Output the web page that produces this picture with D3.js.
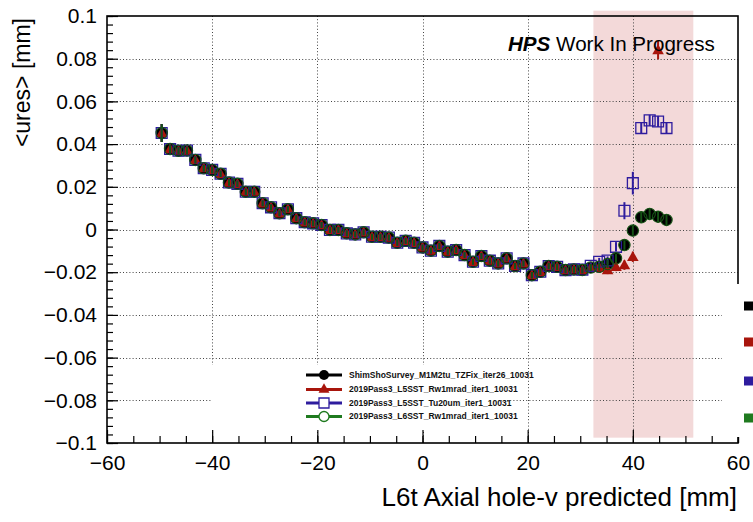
<!DOCTYPE html>
<html>
<head>
<meta charset="utf-8">
<script src="https://cdn.jsdelivr.net/npm/d3@7/dist/d3.min.js"></script>
<style>
  html, body { margin: 0; padding: 0; background: #fff; }
  svg { display: block; font-family: "Liberation Sans", Arial, Helvetica, sans-serif; }
</style>
</head>
<body>
<svg id="chart" width="753" height="522"></svg>
<script>
// Bin centres of the hole-v prediction [mm]
const xBins = [-49.6, -48.0, -46.4, -44.8, -43.2, -41.6, -40.0, -38.4, -36.8, -35.2,
  -33.6, -32.0, -30.4, -28.8, -27.2, -25.6, -24.0, -22.4, -20.8, -19.2,
  -17.6, -16.0, -14.4, -12.8, -11.2, -9.6, -8.0, -6.4, -4.8, -3.2,
  -1.6, 0.0, 1.6, 3.2, 4.8, 6.4, 8.0, 9.6, 11.2, 12.8,
  14.4, 16.0, 17.6, 19.2, 20.8, 22.4, 24.0, 25.6, 27.2, 28.8,
  30.4, 32.0, 33.6, 35.2, 36.8, 38.4, 40.0, 41.6, 43.2, 44.8, 46.4];

// Mean residual per bin [mm]
const shimSho = [0.0452, 0.0377, 0.0369, 0.0370, 0.0326, 0.0287, 0.0279, 0.0261, 0.0220, 0.0214,
  0.0177, 0.0177, 0.0123, 0.0104, 0.0076, 0.0095, 0.0053, 0.0034, 0.0029, 0.0021,
  -0.0002, -0.0002, -0.0018, -0.0023, -0.0013, -0.0034, -0.0034, -0.0038, -0.0062, -0.0053,
  -0.0062, -0.0084, -0.0099, -0.0077, -0.0104, -0.0096, -0.0120, -0.0151, -0.0124, -0.0146,
  -0.0159, -0.0135, -0.0171, -0.0159, -0.0214, -0.0198, -0.0171, -0.0175, -0.0190, -0.0187,
  -0.0190, -0.0178, -0.0175, -0.0162, -0.0135, -0.0073, -0.0005, 0.0057, 0.0073, 0.0060, 0.0045];

const l5Rw = [0.0452, 0.0377, 0.0369, 0.0370, 0.0326, 0.0287, 0.0279, 0.0261, 0.0220, 0.0214,
  0.0177, 0.0177, 0.0123, 0.0104, 0.0076, 0.0095, 0.0053, 0.0034, 0.0029, 0.0021,
  -0.0002, -0.0002, -0.0018, -0.0023, -0.0013, -0.0034, -0.0034, -0.0038, -0.0062, -0.0053,
  -0.0062, -0.0084, -0.0099, -0.0077, -0.0104, -0.0096, -0.0120, -0.0151, -0.0124, -0.0146,
  -0.0159, -0.0135, -0.0171, -0.0159, -0.0214, -0.0198, -0.0171, -0.0175, -0.0190, -0.0187,
  -0.0190, -0.0180, -0.0178, -0.0190, -0.0175, -0.0167, -0.0128, null, null, 0.0840, null];

const l5Tu = [0.0452, 0.0377, 0.0369, 0.0370, 0.0326, 0.0287, 0.0279, 0.0261, 0.0220, 0.0214,
  0.0177, 0.0177, 0.0123, 0.0104, 0.0076, 0.0095, 0.0053, 0.0034, 0.0029, 0.0021,
  -0.0002, -0.0002, -0.0018, -0.0023, -0.0013, -0.0034, -0.0034, -0.0038, -0.0062, -0.0053,
  -0.0062, -0.0084, -0.0099, -0.0077, -0.0104, -0.0096, -0.0120, -0.0151, -0.0124, -0.0146,
  -0.0159, -0.0135, -0.0171, -0.0159, -0.0214, -0.0198, -0.0171, -0.0175, -0.0190, -0.0187,
  -0.0188, -0.0170, -0.0151, -0.0145, -0.0081, 0.0088, 0.0217, 0.0475, 0.0511, 0.0506, 0.0475];

const l6Rw = [0.0452, 0.0377, 0.0369, 0.0370, 0.0326, 0.0287, 0.0279, 0.0261, 0.0220, 0.0214,
  0.0177, 0.0177, 0.0123, 0.0104, 0.0076, 0.0095, 0.0053, 0.0034, 0.0029, 0.0021,
  -0.0002, -0.0002, -0.0018, -0.0023, -0.0013, -0.0034, -0.0034, -0.0038, -0.0062, -0.0053,
  -0.0062, -0.0084, -0.0099, -0.0077, -0.0104, -0.0096, -0.0120, -0.0151, -0.0124, -0.0146,
  -0.0159, -0.0135, -0.0171, -0.0159, -0.0214, -0.0198, -0.0171, -0.0175, -0.0190, -0.0187,
  -0.0190, -0.0178, -0.0175, -0.0162, -0.0135, -0.0073, -0.0005, 0.0057, 0.0073, 0.0060, 0.0045];

// Statistical uncertainty on the mean per bin [mm]
const errCommon = [0.0042, 0.0020, 0.0018, 0.0018, 0.0017, 0.0016, 0.0016, 0.0015, 0.0015, 0.0015,
  0.0015, 0.0015, 0.0014, 0.0014, 0.0014, 0.0014, 0.0014, 0.0014, 0.0014, 0.0014,
  0.0014, 0.0014, 0.0014, 0.0014, 0.0014, 0.0014, 0.0014, 0.0014, 0.0014, 0.0014,
  0.0014, 0.0014, 0.0014, 0.0014, 0.0014, 0.0014, 0.0014, 0.0014, 0.0014, 0.0014,
  0.0014, 0.0014, 0.0014, 0.0014, 0.0015, 0.0015, 0.0015, 0.0015, 0.0015, 0.0016,
  0.0016, 0.0017, 0.0018, 0.0019, 0.0020, 0.0022, 0.0024, 0.0026, 0.0026, 0.0026, 0.0026];
const errTu = [0.0042, 0.0020, 0.0018, 0.0018, 0.0017, 0.0016, 0.0016, 0.0015, 0.0015, 0.0015,
  0.0015, 0.0015, 0.0014, 0.0014, 0.0014, 0.0014, 0.0014, 0.0014, 0.0014, 0.0014,
  0.0014, 0.0014, 0.0014, 0.0014, 0.0014, 0.0014, 0.0014, 0.0014, 0.0014, 0.0014,
  0.0014, 0.0014, 0.0014, 0.0014, 0.0014, 0.0014, 0.0014, 0.0014, 0.0014, 0.0014,
  0.0014, 0.0014, 0.0014, 0.0014, 0.0015, 0.0015, 0.0015, 0.0015, 0.0015, 0.0016,
  0.0016, 0.0017, 0.0018, 0.0019, 0.0022, 0.0040, 0.0053, 0.0026, 0.0026, 0.0026, 0.0026];
const errRwTop = 0.0043;

const seriesNames = [
  "ShimShoSurvey_M1M2tu_TZFix_iter26_10031",
  "2019Pass3_L5SST_Rw1mrad_iter1_10031",
  "2019Pass3_L5SST_Tu20um_iter1_10031",
  "2019Pass3_L6SST_Rw1mrad_iter1_10031"
];
const seriesColors = ["#000000", "#a8150c", "#2e1c9e", "#1f7a1f"];
const ringColor = "#145214";

const yTickValues = [-0.1, -0.08, -0.06, -0.04, -0.02, 0, 0.02, 0.04, 0.06, 0.08, 0.1];
const yTickLabels = ["\u22120.1", "\u22120.08", "\u22120.06", "\u22120.04", "\u22120.02", "0",
  "0.02", "0.04", "0.06", "0.08", "0.1"];
const xTickValues = [-60, -40, -20, 0, 20, 40, 60];
const xTickLabels = ["\u221260", "\u221240", "\u221220", "0", "20", "40", "60"];

// Highlighted acceptance window [mm] and its vertical span
const bandX = [32.5, 51.5];
const bandY = [-0.0975, 0.1025];

const svg = d3.select("#chart");
const frameL = 107, frameR = 738, frameT = 16, frameB = 443;
const x = d3.scaleLinear().domain([-60, 60]).range([frameL, frameR]);
const y = d3.scaleLinear().domain([-0.1, 0.1]).range([frameB, frameT]);

// shaded window
svg.append("rect")
  .attr("x", x(bandX[0])).attr("y", y(bandY[1]))
  .attr("width", x(bandX[1]) - x(bandX[0]))
  .attr("height", y(bandY[0]) - y(bandY[1]))
  .attr("fill", "#f3d9d9");

// dotted grid at the major ticks
const grid = svg.append("g").attr("stroke", "#444").attr("stroke-width", 1)
  .attr("stroke-dasharray", "1,2.2");
grid.selectAll("line.gy").data(yTickValues.slice(1, -1)).join("line")
  .attr("x1", frameL).attr("x2", frameR)
  .attr("y1", d => Math.round(y(d)) + 0.5).attr("y2", d => Math.round(y(d)) + 0.5);
grid.selectAll("line.gx").data(xTickValues.slice(1, -1)).join("line")
  .attr("y1", frameT).attr("y2", frameB)
  .attr("x1", d => Math.round(x(d)) + 0.5).attr("x2", d => Math.round(x(d)) + 0.5);

// data series: error bars then markers
const triangle = d3.symbol(d3.symbolTriangle, 58)();
const square = d3.symbol(d3.symbolSquare, 118)();

function drawSeries(vals, errs, color, kind) {
  const pts = xBins.map((xv, i) => ({ x: xv, y: vals[i], e: errs[i] }))
    .filter(p => p.y !== null);
  const g = svg.append("g");
  g.selectAll("line").data(pts).join("line")
    .attr("x1", d => x(d.x)).attr("x2", d => x(d.x))
    .attr("y1", d => y(d.y - d.e)).attr("y2", d => y(d.y + d.e))
    .attr("stroke", color).attr("stroke-width", 2);
  if (kind === "circle") {
    g.selectAll("circle").data(pts).join("circle")
      .attr("cx", d => x(d.x)).attr("cy", d => y(d.y)).attr("r", 5.6)
      .attr("fill", color);
  } else if (kind === "triangle") {
    g.selectAll("path").data(pts).join("path")
      .attr("d", triangle)
      .attr("transform", d => `translate(${x(d.x)},${y(d.y) + 0.8})`)
      .attr("fill", color);
  } else if (kind === "square") {
    g.selectAll("path").data(pts).join("path")
      .attr("d", square)
      .attr("transform", d => `translate(${x(d.x)},${y(d.y)})`)
      .attr("fill", "none").attr("stroke", color).attr("stroke-width", 1.3);
  } else {
    g.selectAll("circle").data(pts).join("circle")
      .attr("cx", d => x(d.x)).attr("cy", d => y(d.y)).attr("r", 5.7)
      .attr("fill", "none").attr("stroke", color).attr("stroke-width", 1.1);
  }
}
const errRw = errCommon.map((e, i) => (i === 59 ? errRwTop : e));
drawSeries(shimSho, errCommon, seriesColors[0], "circle");
drawSeries(l5Rw, errRw, seriesColors[1], "triangle");
drawSeries(l5Tu, errTu, seriesColors[2], "square");
drawSeries(l6Rw, errCommon, ringColor, "ocircle");

// legend
svg.append("rect").attr("x", 211).attr("y", 365).attr("width", 289).attr("height", 67)
  .attr("fill", "#fff");
const legRows = [375, 389.5, 403, 416.5];
const leg = svg.append("g");
seriesNames.forEach((name, i) => {
  const ly = legRows[i], c = seriesColors[i];
  leg.append("line").attr("x1", 306).attr("x2", 342).attr("y1", ly).attr("y2", ly)
    .attr("stroke", c).attr("stroke-width", 3);
  if (i === 0) leg.append("circle").attr("cx", 324).attr("cy", ly).attr("r", 5).attr("fill", c);
  if (i === 1) leg.append("path").attr("d", d3.symbol(d3.symbolTriangle, 52)())
    .attr("transform", `translate(324,${ly})`).attr("fill", c);
  if (i === 2) leg.append("path").attr("d", d3.symbol(d3.symbolSquare, 100)())
    .attr("transform", `translate(324,${ly})`).attr("fill", "#fff").attr("stroke", c).attr("stroke-width", 1.3);
  if (i === 3) leg.append("circle").attr("cx", 324).attr("cy", ly).attr("r", 5)
    .attr("fill", "#fff").attr("stroke", c).attr("stroke-width", 1.3);
  leg.append("text").attr("x", 349).attr("y", ly).attr("dy", "0.35em")
    .attr("font-size", 8.5).attr("font-weight", "bold").attr("fill", "#111").text(name);
});

// axes (ticks point into the frame)
const yAxis = d3.axisLeft(y).tickValues(yTickValues).tickSize(-11).tickPadding(10)
  .tickFormat((d, i) => yTickLabels[i]);
const yMinor = d3.axisLeft(y).tickValues(d3.range(-0.1, 0.1001, 0.004)).tickSize(-6).tickFormat("");
const xAxis = d3.axisBottom(x).tickValues(xTickValues).tickSize(-13).tickPadding(12)
  .tickFormat((d, i) => xTickLabels[i]);
const xMinor = d3.axisBottom(x).tickValues(d3.range(-60, 60.1, 5)).tickSize(-7).tickFormat("");

function styleAxis(g) {
  g.select(".domain").remove();
  g.selectAll(".tick line").attr("stroke", "#000").attr("stroke-width", 1.2);
  g.selectAll("text").attr("font-size", 21).attr("fill", "#000")
    .attr("font-family", "'Liberation Sans', Arial, sans-serif");
}
svg.append("g").attr("transform", `translate(${frameL},0)`).call(yMinor).call(styleAxis);
svg.append("g").attr("transform", `translate(${frameL},0)`).call(yAxis).call(styleAxis);
svg.append("g").attr("transform", `translate(0,${frameB})`).call(xMinor).call(styleAxis);
svg.append("g").attr("transform", `translate(0,${frameB})`).call(xAxis).call(styleAxis);

// frame
svg.append("rect").attr("x", frameL).attr("y", frameT).attr("width", frameR - frameL)
  .attr("height", frameB - frameT).attr("fill", "none").attr("stroke", "#000").attr("stroke-width", 1.6);

// side key partly outside the canvas
svg.append("rect").attr("x", 722).attr("y", 284).attr("width", 31).attr("height", 153).attr("fill", "#fff");
[306, 342, 381, 418].forEach((sy, i) => {
  svg.append("rect").attr("x", 744).attr("y", sy - 4.5).attr("width", 9).attr("height", 9)
    .attr("fill", seriesColors[i]);
});

// header
const hdr = svg.append("text").attr("x", 508).attr("y", 51).attr("font-size", 20.6).attr("fill", "#000");
hdr.append("tspan").attr("font-weight", "bold").attr("font-style", "italic").text("HPS");
hdr.append("tspan").text(" Work In Progress");

// axis titles
svg.append("text").attr("transform", "translate(30,18) rotate(-90)")
  .attr("text-anchor", "end").attr("font-size", 23).attr("fill", "#000").text("<ures> [mm]");
svg.append("text").attr("x", 737).attr("y", 506).attr("text-anchor", "end")
  .attr("font-size", 26).attr("fill", "#000").text("L6t Axial hole-v predicted [mm]");
</script>
</body>
</html>
